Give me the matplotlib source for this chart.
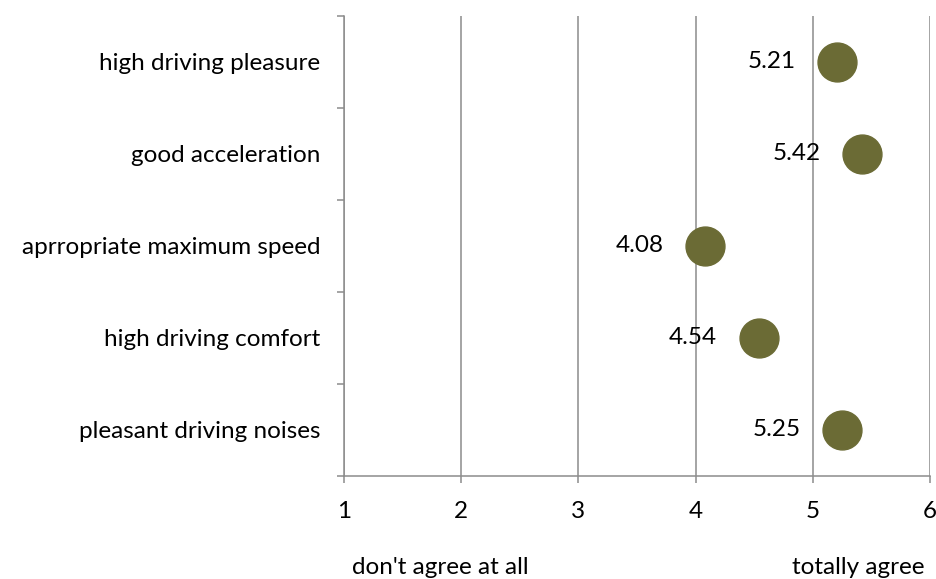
import numpy as np
import matplotlib.pyplot as plt

plt.rcParams['font.family'] = ['Lato', 'DejaVu Sans']

categories = ['high driving pleasure', 'good acceleration', 'aprropriate maximum speed',
              'high driving comfort', 'pleasant driving noises']
scores = [5.21, 5.42, 4.08, 4.54, 5.25]
x_ticks = [1, 2, 3, 4, 5, 6]

grey = '#8c8c8c'
dot_color = '#6b6b35'
fs = 17.5

fig = plt.figure(figsize=(9.36, 5.79), dpi=100)
ax = fig.add_axes([0.3675, 0.178, 0.6261, 0.7945])

y_pos = np.arange(len(categories))
ax.plot(scores, y_pos, 'o', color=dot_color, markersize=28, zorder=3, clip_on=False)
for x, y in zip(scores, y_pos):
    ax.annotate('%.2f' % x, (x, y), xytext=(-30, 0), textcoords='offset points',
                ha='right', va='center', fontsize=fs)

ax.set_xlim(1, 6)
ax.set_ylim(len(categories) - 0.5, -0.5)
ax.set_xticks(x_ticks)
ax.set_xticklabels([str(t) for t in x_ticks], fontsize=fs)
ax.set_yticks(np.arange(-0.5, len(categories), 1))
ax.set_yticklabels([])
ax.set_yticks(y_pos, minor=True)
ax.set_yticklabels(categories, minor=True, fontsize=fs)
ax.tick_params(axis='y', which='minor', length=0, pad=17)
ax.tick_params(axis='y', which='major', length=5, width=1.1, color=grey)
ax.tick_params(axis='x', length=5, width=1.1, color=grey, pad=13)

ax.xaxis.grid(True, color=grey, linewidth=1.1)
ax.set_axisbelow(True)
for s in ['top', 'right']:
    ax.spines[s].set_visible(False)
for s in ['left', 'bottom']:
    ax.spines[s].set_color(grey)
    ax.spines[s].set_linewidth(1.1)

fig.text(440 / 936, 1 - 567 / 579, "don't agree at all", ha='center', va='center', fontsize=fs)
fig.text(858 / 936, 1 - 567 / 579, 'totally agree', ha='center', va='center', fontsize=fs)

fig.savefig('out.png', dpi=100)
